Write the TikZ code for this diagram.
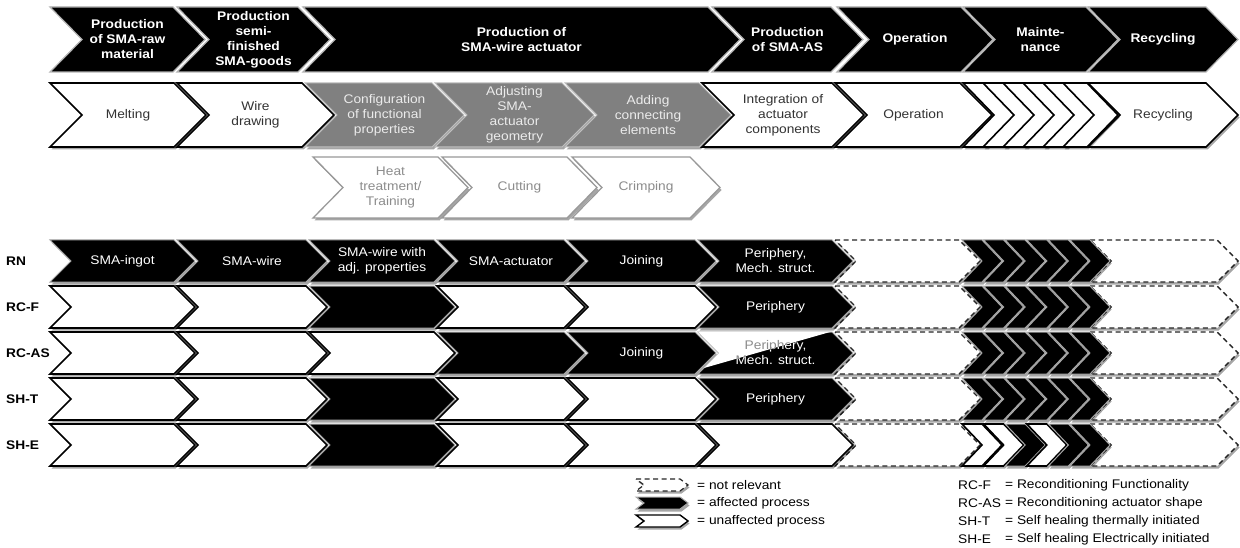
\documentclass[tikz,border=0pt]{standalone}
\usepackage{fontspec}
\setmainfont{Liberation Sans}[FakeStretch=1.1]
\usetikzlibrary{shadows}

\definecolor{procgray}{gray}{0.5}

\def\colL{{50,177,309,437,567,698,835,962,1090,1220}}

\newcommand{\chev}[8]{%
  \path[#1] (#3,#5) -- ({#4-#7},#5) -- (#4,{(#5+#6)/2}) -- ({#4-#7},#6)
    -- (#3,#6) -- ({#3+#7},{(#5+#6)/2}) -- cycle
    ({(#3+#4)/2},{(#5+#6)/2}) node[lbl] (#2) {#8};}

\newcommand{\cell}[5]{%
  \pgfmathsetmacro\xa{\colL[#1]}%
  \pgfmathsetmacro\xb{\colL[#1+1]+18}%
  \chev{#3}{#4}{\xa}{\xb}{#2}{#2+42}{21}{#5}}

\tikzset{
  lbl/.style={align=center, inner sep=0pt},
  shd/.style={drop shadow={shadow xshift=1.5pt, shadow yshift=-2.5pt, opacity=.35, fill=black}},
  hdr/.style={fill=black, draw=black!30, line width=1.2pt, text=white,
    font=\bfseries\fontsize{12.5}{15}\selectfont},
  blk/.style={shd, fill=black, draw=black!35, line width=1pt, text=white},
  wht/.style={shd, fill=white, draw=black, line width=1.6pt, text=black!80},
  gry/.style={shd, fill=procgray, draw=black!25, line width=1pt, text=white!92!black},
  sub/.style={shd, fill=white, draw=black!40, line width=1.3pt, text=black!45},
  nrel/.style={shd, fill=white, draw=black!85, line width=1.4pt, dash pattern=on 5pt off 3.5pt},
  rowlbl/.style={anchor=west, inner sep=0pt, font=\bfseries\fontsize{12.5}{15}\selectfont},
  leg/.style={anchor=west, inner sep=0pt}
}

\begin{document}
\begin{tikzpicture}[x=1pt, y=-1pt, font=\fontsize{12.5}{15}\selectfont]
  \useasboundingbox (0,0) rectangle (1240,548);

  \foreach \nm/\pa/\pb/\txt in {h1/50/205/{Production\\of SMA-raw\\material},
      h2/177/330/{Production\\semi-\\finished\\SMA-goods},
      h3/303/740/{Production of\\SMA-wire actuator},
      h4/712/863/{Production\\of SMA-AS}, h5/837/993/Operation,
      h6/963/1118/{Mainte-\\nance}, h7/1088/1238/Recycling}
    {\chev{hdr}{\nm}{\pa}{\pb}{7}{72}{32}{\txt}}

  \foreach \nm/\sty/\pa/\pb/\txt in {p1/wht/50/206/Melting,
      p2/wht/177/334/{Wire\\drawing},
      p3/gry/305/464/{Configuration\\of functional\\properties},
      p4/gry/435/594/{Adjusting\\SMA-\\actuator\\geometry},
      p5/gry/565/731/{Adding\\connecting\\elements},
      p6/wht/702/864/{Integration of\\actuator\\components},
      p7/wht/835/992/Operation, p9/wht/1088/1238/Recycling}
    {\chev{\sty}{\nm}{\pa}{\pb}{83}{147}{32}{\txt}}
  \foreach \kk in {0,...,5}
    {\chev{wht}{p8\kk}{963+20*\kk}{1018+20*\kk}{83}{147}{31}{}}

  \foreach \nm/\pa/\pb/\txt in {s1/313/468/{Heat\\treatment/\\Training},
      s2/442/597/Cutting, s3/572/720/Crimping}
    {\chev{sub}{\nm}{\pa}{\pb}{157}{218}{30}{\txt}}

  \foreach \rw/\y/\lab in {rn/240/RN, rcf/286/RC-F, ras/332/RC-AS, sht/378/SH-T, she/424/SH-E} {
    \node[rowlbl] (\rw) at (6,\y+21) {\lab};
    \cell{6}{\y}{nrel}{\rw7}{}
    \cell{8}{\y}{nrel}{\rw9}{}
  }

  \foreach \cc/\sty/\txt in {0/blk/SMA-ingot, 1/blk/SMA-wire, 2/blk/{SMA-wire with\\adj. properties},
      3/blk/SMA-actuator, 4/blk/Joining, 5/blk/{Periphery,\\Mech. struct.}}
    {\cell{\cc}{240}{\sty}{rn\cc}{\txt}}
  \foreach \cc/\sty/\txt in {0/wht/, 1/wht/, 2/blk/, 3/wht/, 4/wht/, 5/blk/Periphery}
    {\cell{\cc}{286}{\sty}{rcf\cc}{\txt}}
  \foreach \cc/\sty/\txt in {0/wht/, 1/wht/, 2/wht/, 3/blk/, 4/blk/Joining, 5/blk/}
    {\cell{\cc}{332}{\sty}{ras\cc}{\txt}}
  \foreach \cc/\sty/\txt in {0/wht/, 1/wht/, 2/blk/, 3/wht/, 4/wht/, 5/blk/Periphery}
    {\cell{\cc}{378}{\sty}{sht\cc}{\txt}}
  \foreach \cc/\sty/\txt in {0/wht/, 1/wht/, 2/blk/, 3/wht/, 4/wht/, 5/wht/}
    {\cell{\cc}{424}{\sty}{she\cc}{\txt}}

  \fill[white] (698,332) -- (830,332) -- (704,368) -- (719,353) -- cycle;
  \node[lbl, text=white] (ras5t) at (775.5,353) {Periphery,\\Mech. struct.};
  \begin{scope}
    \clip (698,332) -- (830,332) -- (704,368) -- (719,353) -- cycle;
    \node[lbl, text=black!45] (ras5u) at (775.5,353) {Periphery,\\Mech. struct.};
  \end{scope}

  \foreach \rw/\y in {rn/240, rcf/286, ras/332, sht/378}
    \foreach \kk in {0,...,5}
      {\chev{blk}{m\rw\kk}{962+21.6*\kk}{1002+21.6*\kk}{\y}{\y+42}{20}{}}
  \foreach \kk/\sty in {0/wht, 1/wht, 2/blk, 3/wht, 4/blk, 5/blk}
    {\chev{\sty}{mshe\kk}{962+21.6*\kk}{1002+21.6*\kk}{424}{466}{20}{}}

  \chev{nrel, line width=1.2pt}{lg1}{636}{688}{479}{491}{8}{}
  \chev{blk}{lg2}{636}{688}{497}{509}{8}{}
  \chev{wht, line width=1.4pt}{lg3}{636}{688}{515}{527}{8}{}
  \node[leg] (lt1) at (697,485) {= not relevant};
  \node[leg] (lt2) at (697,503) {= affected process};
  \node[leg] (lt3) at (697,521) {= unaffected process};

  \foreach \nm/\y/\ab/\txt in {k1/485/RC-F/Reconditioning Functionality,
      k2/503/RC-AS/Reconditioning actuator shape,
      k3/521/SH-T/Self healing thermally initiated,
      k4/539/SH-E/Self healing Electrically initiated} {
    \node[leg] (\nm a) at (958,\y) {\ab};
    \node[leg] (\nm b) at (1005,\y) {= \txt};
  }
\end{tikzpicture}
\end{document}
